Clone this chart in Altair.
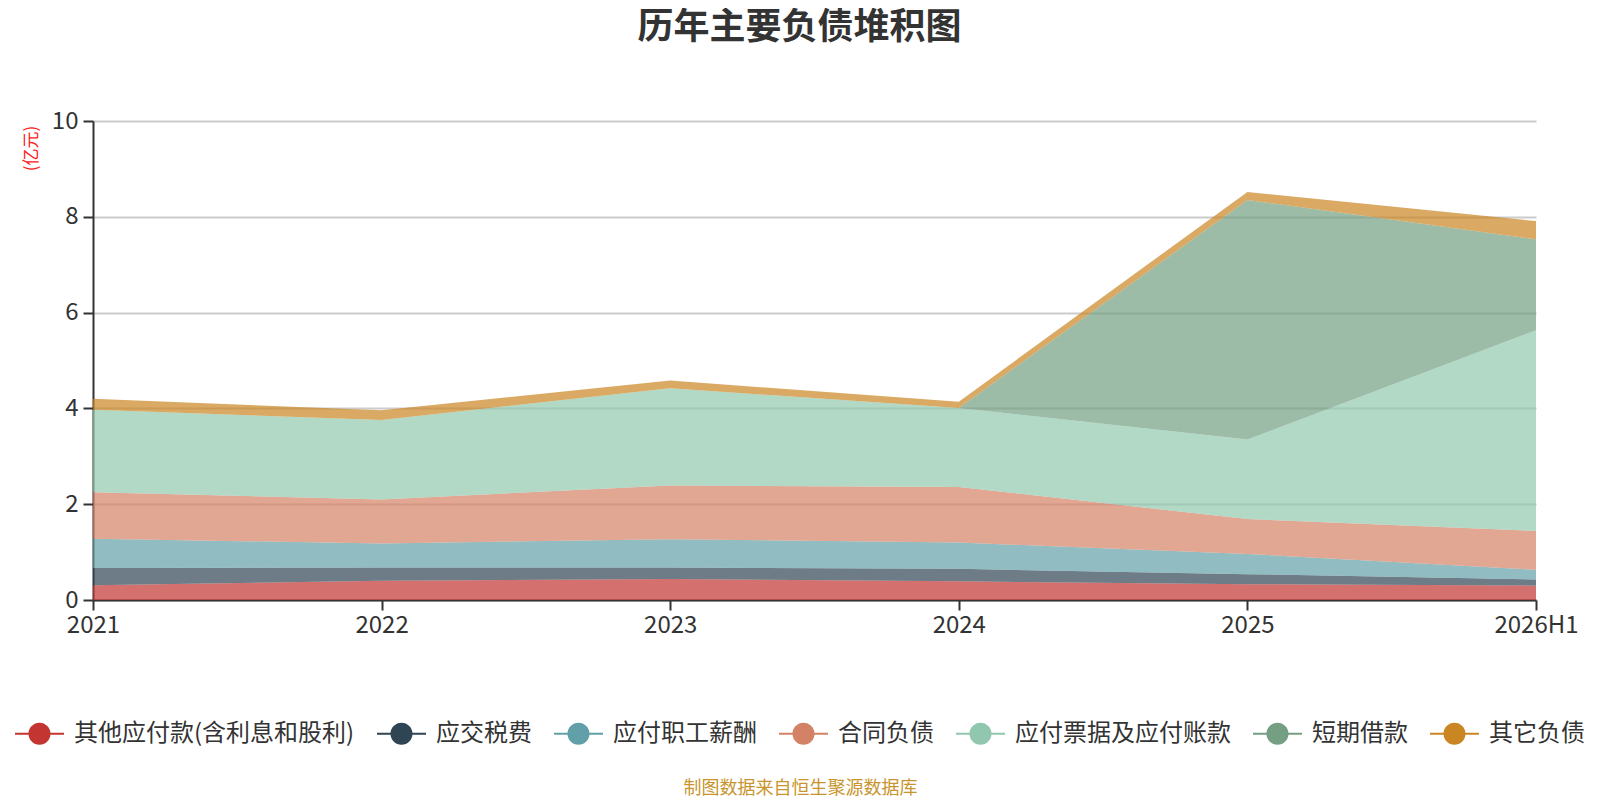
import altair as alt
import pandas as pd

years = ["2021", "2022", "2023", "2024", "2025", "2026H1"]
series_names = ["其他应付款(含利息和股利)", "应交税费", "应付职工薪酬", "合同负债",
                "应付票据及应付账款", "短期借款", "其它负债"]
other_payables = [0.31, 0.40, 0.44, 0.39, 0.33, 0.30]
taxes_payable = [0.36, 0.28, 0.24, 0.26, 0.21, 0.13]
payroll_payable = [0.61, 0.50, 0.59, 0.55, 0.42, 0.20]
contract_liab = [0.97, 0.92, 1.12, 1.16, 0.73, 0.81]
notes_accounts = [1.72, 1.66, 2.03, 1.65, 1.66, 4.19]
short_loans = [0.00, 0.00, 0.00, 0.00, 5.00, 1.90]
other_liab = [0.23, 0.20, 0.16, 0.13, 0.17, 0.38]
colors = ["#c23531", "#2f4554", "#61a0a8", "#d48265", "#91c7ae", "#749f83", "#ca8622"]
y_ticks = [0, 2, 4, 6, 8, 10]

series_values = [other_payables, taxes_payable, payroll_payable, contract_liab,
                 notes_accounts, short_loans, other_liab]
rows = []
for idx, (name, vals) in enumerate(zip(series_names, series_values)):
    for yr, v in zip(years, vals):
        rows.append({"year": yr, "name": name, "value": v, "order": idx})
df = pd.DataFrame(rows)

FONT = "Noto Sans CJK SC"
# legend icon: a thin horizontal bar with a filled circle in the middle
legend_symbol = ("M-1,-0.04L1,-0.04L1,0.04L-1,0.04Z"
                 "M-0.45,0A0.45,0.45,0,1,1,0.45,0A0.45,0.45,0,1,1,-0.45,0Z")

chart = alt.Chart(df).mark_area(opacity=0.7, interpolate="linear").encode(
    x=alt.X("year:O", sort=years,
            scale=alt.Scale(type="point", padding=0),
            axis=alt.Axis(title="制图数据来自恒生聚源数据库", labelAngle=0,
                          labelFontSize=24, labelColor="#333", labelFont=FONT,
                          labelPadding=3, tickSize=10, tickWidth=2, tickColor="#333",
                          domainColor="#333", domainWidth=2,
                          titleFont=FONT, titleFontSize=18, titleFontWeight="normal",
                          titleColor="#c8952d", titleX=707, titleY=188,
                          titleAlign="center", titleBaseline="middle")),
    y=alt.Y("value:Q", stack="zero",
            scale=alt.Scale(domain=[0, 10], nice=False),
            axis=alt.Axis(title="(亿元)", values=y_ticks, labelFontSize=24,
                          labelColor="#333", labelFont=FONT, labelPadding=5,
                          tickSize=10, tickWidth=2, tickColor="#333",
                          domainColor="#333", domainWidth=2,
                          grid=True, gridColor="#cccccc", gridWidth=2,
                          titleFont=FONT, titleFontSize=17, titleFontWeight="normal",
                          titleColor="#ff2020", titleAngle=270, titleX=-62, titleY=27,
                          titleAlign="center", titleBaseline="middle")),
    color=alt.Color("name:N", sort=series_names,
                    scale=alt.Scale(domain=series_names, range=colors),
                    legend=alt.Legend(title=None, orient="none", direction="horizontal",
                                      legendX=-78, legendY=588,
                                      symbolType=legend_symbol, symbolSize=2401,
                                      symbolStrokeWidth=0, symbolOpacity=1,
                                      labelFontSize=24, labelColor="#333", labelFont=FONT,
                                      labelOffset=10, columnPadding=22, padding=0,
                                      labelLimit=600)),
    order=alt.Order("order:Q", sort="ascending"),
).properties(
    width=1443,
    height=479,
    autosize=alt.AutoSizeParams(type="none"),
    padding={"left": 85, "top": 113, "right": 56, "bottom": 200},
    title=alt.TitleParams(text="历年主要负债堆积图", fontSize=36, fontWeight="bold",
                          color="#333", font=FONT, anchor="middle", dx=-15,
                          baseline="bottom", offset=26),
).configure_view(strokeWidth=0)

chart.save("out.html", embed_options={"renderer": "svg", "actions": False})
